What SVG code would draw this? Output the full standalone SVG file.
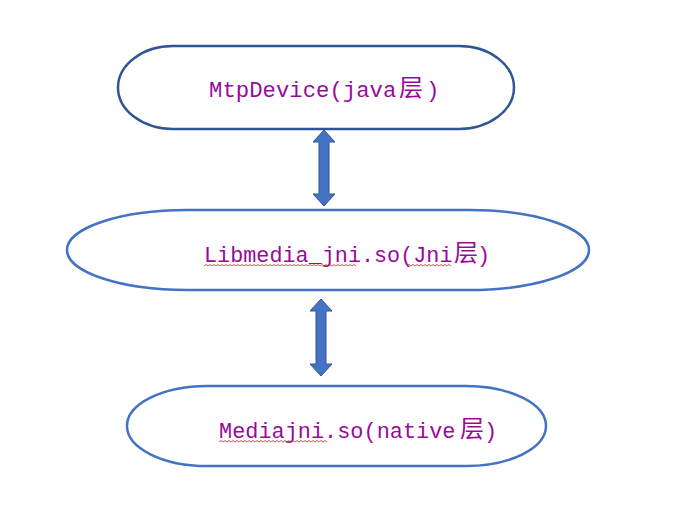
<svg xmlns="http://www.w3.org/2000/svg" width="693" height="518" viewBox="0 0 693 518">
<style>
.node{fill:#fff;stroke-width:2.5}
.lbl{font-family:"Liberation Mono","Noto Sans CJK SC",monospace;fill:#9a0a9a}
.cjk{font-family:"Noto Sans CJK SC",sans-serif;font-size:24px}
.arrow{fill:#4472C4;stroke:#2F5597;stroke-width:1}
.wavy{fill:none;stroke:#e02020;stroke-width:0.8}
</style>
<rect width="693" height="518" fill="#fff"/>
<g id="mtpdevice">
<rect class="node" x="118" y="46" width="396" height="83" rx="55" ry="41.5" stroke="#2F5597"/>
<text class="lbl" x="209" y="97" font-size="22.3">MtpDevice(java<tspan class="cjk" x="399" y="96">层</tspan><tspan x="426" y="97">)</tspan></text>
</g>
<g id="libmedia">
<rect class="node" x="67" y="210" width="522" height="80" rx="120" ry="40" stroke="#4472C4"/>
<text class="lbl" x="204" y="262" font-size="21.8">Libmedia_jni.so(Jni<tspan class="cjk" x="454" y="261">层</tspan><tspan x="477" y="262">)</tspan></text>
<path class="wavy" d="M204,266 l2,-1.5 l2,1.5 l2,-1.5 l2,1.5 l2,-1.5 l2,1.5 l2,-1.5 l2,1.5 l2,-1.5 l2,1.5 l2,-1.5 l2,1.5 l2,-1.5 l2,1.5 l2,-1.5 l2,1.5 l2,-1.5 l2,1.5 l2,-1.5 l2,1.5 l2,-1.5 l2,1.5 l2,-1.5 l2,1.5 l2,-1.5 l2,1.5 l2,-1.5 l2,1.5 l2,-1.5 l2,1.5 l2,-1.5 l2,1.5 l2,-1.5 l2,1.5 l2,-1.5 l2,1.5 l2,-1.5 l2,1.5 l2,-1.5 l2,1.5 l2,-1.5 l2,1.5 l2,-1.5 l2,1.5 l2,-1.5 l2,1.5 l2,-1.5 l2,1.5 l2,-1.5 l2,1.5 l2,-1.5 l2,1.5 l2,-1.5 l2,1.5 l2,-1.5 l2,1.5 l2,-1.5 l2,1.5 l2,-1.5 l2,1.5 l2,-1.5 l2,1.5 l2,-1.5 l2,1.5 l2,-1.5 l2,1.5 l2,-1.5 l2,1.5 l2,-1.5 l2,1.5 l2,-1.5 l2,1.5 l2,-1.5 l2,1.5 l2,-1.5 l2,1.5"/>
<path class="wavy" d="M407,266 l2,-1.5 l2,1.5 l2,-1.5 l2,1.5 l2,-1.5 l2,1.5 l2,-1.5 l2,1.5 l2,-1.5 l2,1.5 l2,-1.5 l2,1.5 l2,-1.5 l2,1.5 l2,-1.5 l2,1.5 l2,-1.5 l2,1.5 l2,-1.5 l2,1.5 l2,-1.5 l2,1.5"/>
</g>
<g id="mediajni">
<rect class="node" x="127" y="386" width="419" height="80" rx="80" ry="40" stroke="#4472C4"/>
<text class="lbl" x="219" y="438" font-size="21.9">Mediajni.so(native<tspan class="cjk" x="460" y="437">层</tspan><tspan x="484" y="438">)</tspan></text>
<path class="wavy" d="M219,442 l2,-1.5 l2,1.5 l2,-1.5 l2,1.5 l2,-1.5 l2,1.5 l2,-1.5 l2,1.5 l2,-1.5 l2,1.5 l2,-1.5 l2,1.5 l2,-1.5 l2,1.5 l2,-1.5 l2,1.5 l2,-1.5 l2,1.5 l2,-1.5 l2,1.5 l2,-1.5 l2,1.5 l2,-1.5 l2,1.5 l2,-1.5 l2,1.5 l2,-1.5 l2,1.5 l2,-1.5 l2,1.5 l2,-1.5 l2,1.5 l2,-1.5 l2,1.5 l2,-1.5 l2,1.5 l2,-1.5 l2,1.5 l2,-1.5 l2,1.5 l2,-1.5 l2,1.5 l2,-1.5 l2,1.5 l2,-1.5 l2,1.5 l2,-1.5 l2,1.5 l2,-1.5 l2,1.5 l2,-1.5 l2,1.5 l2,-1.5 l2,1.5"/>
</g>
<g id="connectors">
<path class="arrow" d="M324,130 L335,142 L329,142 L329,194 L335,194 L324,206 L313,194 L319,194 L319,142 L313,142 Z"/>
<path class="arrow" d="M321,299 L332,311 L326,311 L326,364 L332,364 L321,376 L310,364 L316,364 L316,311 L310,311 Z"/>
</g>
</svg>
